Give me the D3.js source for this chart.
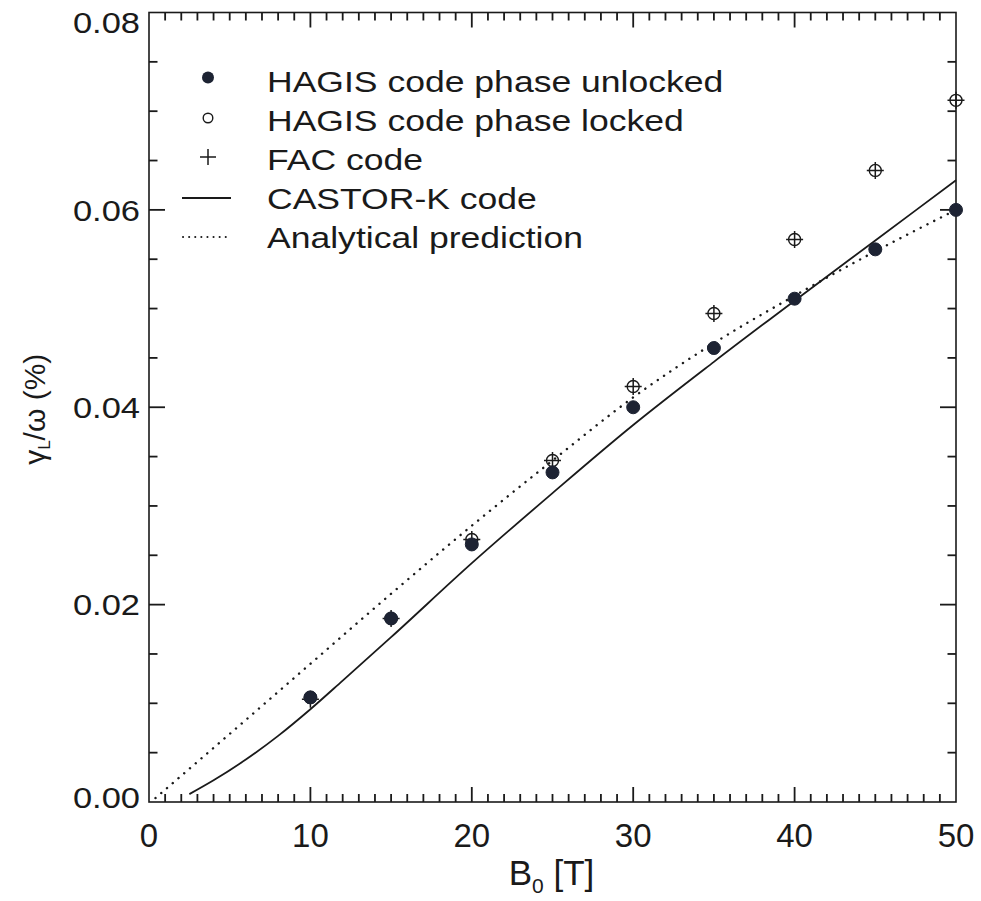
<!DOCTYPE html>
<html>
<head>
<meta charset="utf-8">
<script src="https://cdn.jsdelivr.net/npm/d3@7"></script>
<style>
  html, body { margin: 0; padding: 0; background: #fff; }
  svg { display: block; font-family: "Liberation Sans", Arial, Helvetica, sans-serif; }
</style>
</head>
<body>
<svg id="chart" width="981" height="901"></svg>
<script>
// Magnetic field scan points
const B0 = [10, 15, 20, 25, 30, 35, 40, 45, 50];
// Linear growth rate gamma_L / omega (%)
const hagisUnlocked = [0.0106, 0.0186, 0.0261, 0.0334, 0.0400, 0.0460, 0.0510, 0.0560, 0.0600];
const hagisLocked   = [0.0106, 0.0186, 0.0266, 0.0346, 0.0421, 0.0495, 0.0570, 0.0640, 0.0711];
const facCode       = [0.0104, 0.0186, 0.0266, 0.0346, 0.0421, 0.0495, 0.0570, 0.0640, 0.0711];

// CASTOR-K continuous curve
const castorB     = [2.5, 4, 6, 8, 10, 12, 15, 20, 25, 30, 35, 40, 45, 50];
const castorGamma = [0.0008, 0.0022, 0.0043, 0.0067, 0.0094, 0.0123, 0.0167, 0.0242, 0.0313, 0.0382, 0.0446, 0.0508, 0.0569, 0.0630];

// Analytical prediction curve
const analyticB     = [0.4, 5, 10, 15, 20, 25, 30, 35, 40, 45, 50];
const analyticGamma = [0.0004, 0.0069, 0.0140, 0.0211, 0.0280, 0.0346, 0.0410, 0.0465, 0.0513, 0.0558, 0.0600];

const xMajor = [0, 10, 20, 30, 40, 50];
const xMinor = d3.range(1, 50, 1).filter(v => v % 10 !== 0);
const yMajor = [0.00, 0.02, 0.04, 0.06, 0.08];
const yMinor = [0.005, 0.01, 0.015, 0.025, 0.03, 0.035, 0.045, 0.05, 0.055, 0.065, 0.07, 0.075];

const legendLabels = [
  "HAGIS code phase unlocked",
  "HAGIS code phase locked",
  "FAC code",
  "CASTOR-K code",
  "Analytical prediction"
];

const ink = "#1a1a1a";
const dotInk = "#1d2333";
const svg = d3.select("#chart");

const x = d3.scaleLinear().domain([0, 50]).range([149, 956]);
const y = d3.scaleLinear().domain([0, 0.08]).range([802, 12.5]);

const plotL = x(0), plotR = x(50), plotB = y(0), plotT = y(0.08);

// Frame
svg.append("rect")
  .attr("x", plotL).attr("y", plotT)
  .attr("width", plotR - plotL).attr("height", plotB - plotT)
  .attr("fill", "none").attr("stroke", ink).attr("stroke-width", 1.6);

// Inward ticks on all four sides, drawn as thin filled bars
const tickW = 1.8;
const tickG = svg.append("g").attr("fill", ink);
function addXTicks(values, len) {
  values.forEach(v => {
    tickG.append("rect").attr("x", x(v) - tickW / 2).attr("y", plotB - len).attr("width", tickW).attr("height", len);
    tickG.append("rect").attr("x", x(v) - tickW / 2).attr("y", plotT).attr("width", tickW).attr("height", len);
  });
}
function addYTicks(values, len) {
  values.forEach(v => {
    tickG.append("rect").attr("x", plotL).attr("y", y(v) - tickW / 2).attr("width", len).attr("height", tickW);
    tickG.append("rect").attr("x", plotR - len).attr("y", y(v) - tickW / 2).attr("width", len).attr("height", tickW);
  });
}
addXTicks(xMinor, 8);
addXTicks(xMajor.slice(1, -1), 15);
addYTicks(yMinor, 8.5);
addYTicks(yMajor.slice(1, -1), 16);

// Tick labels
svg.append("g").selectAll("text").data(xMajor).join("text")
  .attr("x", d => x(d)).attr("y", 846.5)
  .attr("text-anchor", "middle").attr("font-size", 33).attr("fill", ink)
  .text(d3.format("d"));

const yShift = { "0": -5, "0.08": 10 };
const fmtY = d3.format(".2f");
svg.append("g").selectAll("text").data(yMajor).join("text")
  .attr("transform", d => `translate(${plotL - 9},${y(d) + (yShift[String(d)] || 0)}) scale(1.15,1)`)
  .attr("dy", "0.36em")
  .attr("text-anchor", "end").attr("font-size", 30).attr("fill", ink)
  .text(fmtY);

// Axis titles
const xTitle = svg.append("text")
  .attr("transform", `translate(${x(25) - 1},885)`)
  .attr("text-anchor", "middle").attr("font-size", 35).attr("fill", ink);
xTitle.append("tspan").text("B");
xTitle.append("tspan").attr("font-size", 21).attr("dy", 8).text("0");
xTitle.append("tspan").attr("dy", -8).text(" [T]");

const yTitle = svg.append("text")
  .attr("transform", `translate(45,${(plotB + plotT) / 2 + 2}) rotate(-90)`)
  .attr("text-anchor", "middle").attr("font-size", 30).attr("fill", ink);
yTitle.append("tspan").text("γ");
yTitle.append("tspan").attr("font-size", 17).attr("dy", 5).text("L");
yTitle.append("tspan").attr("dy", -5).text("/ω (%)");

// Curves
const castorData = castorB.map((b, i) => [b, castorGamma[i]]);
const analyticData = analyticB.map((b, i) => [b, analyticGamma[i]]);
const line = d3.line().x(d => x(d[0])).y(d => y(d[1])).curve(d3.curveMonotoneX);

svg.append("path").datum(castorData).attr("d", line)
  .attr("fill", "none").attr("stroke", ink).attr("stroke-width", 1.8);
svg.append("path").datum(analyticData).attr("d", line)
  .attr("fill", "none").attr("stroke", ink).attr("stroke-width", 2.4)
  .attr("stroke-linecap", "round").attr("stroke-dasharray", "0.1,7.5");

// Markers
const lockedPts = B0.map((b, i) => [b, hagisLocked[i]]);
const facPts = B0.map((b, i) => [b, facCode[i]]);
const unlockedPts = B0.map((b, i) => [b, hagisUnlocked[i]]);

function plusPath(h) {
  return `M${-h},0H${h}M0,${-h}V${h}`;
}

svg.append("g").selectAll("circle").data(lockedPts).join("circle")
  .attr("cx", d => x(d[0])).attr("cy", d => y(d[1])).attr("r", 6)
  .attr("fill", "none").attr("stroke", ink).attr("stroke-width", 1.4);

svg.append("g").selectAll("path").data(facPts).join("path")
  .attr("transform", d => `translate(${x(d[0])},${y(d[1])})`)
  .attr("d", plusPath(8.5))
  .attr("fill", "none").attr("stroke", ink).attr("stroke-width", 1.5);

svg.append("g").selectAll("circle").data(unlockedPts).join("circle")
  .attr("cx", d => x(d[0])).attr("cy", d => y(d[1])).attr("r", 6.5)
  .attr("fill", dotInk).attr("stroke", dotInk).attr("stroke-width", 1);

// Legend
const legend = svg.append("g");
const rowBase = d3.scaleLinear().domain([0, 4]).range([91.5, 247.5]);
legendLabels.forEach((label, i) => {
  legend.append("text")
    .attr("transform", `translate(267,${rowBase(i)}) scale(1.185,1)`)
    .attr("font-size", 30).attr("fill", ink).text(label);
});
const symY = i => rowBase(i) - 12.5;
legend.append("circle").attr("cx", 208).attr("cy", symY(0) - 1.5).attr("r", 6)
  .attr("fill", dotInk);
legend.append("circle").attr("cx", 208).attr("cy", symY(1)).attr("r", 4.8)
  .attr("fill", "none").attr("stroke", ink).attr("stroke-width", 1.4);
legend.append("path").attr("transform", `translate(208,${symY(2)})`)
  .attr("d", plusPath(8)).attr("stroke", ink).attr("stroke-width", 1.5);
legend.append("line").attr("x1", 182).attr("x2", 231)
  .attr("y1", symY(3) + 2).attr("y2", symY(3) + 2)
  .attr("stroke", ink).attr("stroke-width", 1.8);
legend.append("line").attr("x1", 183).attr("x2", 231)
  .attr("y1", symY(4) + 2).attr("y2", symY(4) + 2)
  .attr("stroke", ink).attr("stroke-width", 2)
  .attr("stroke-linecap", "round").attr("stroke-dasharray", "0.1,6");
</script>
</body>
</html>
